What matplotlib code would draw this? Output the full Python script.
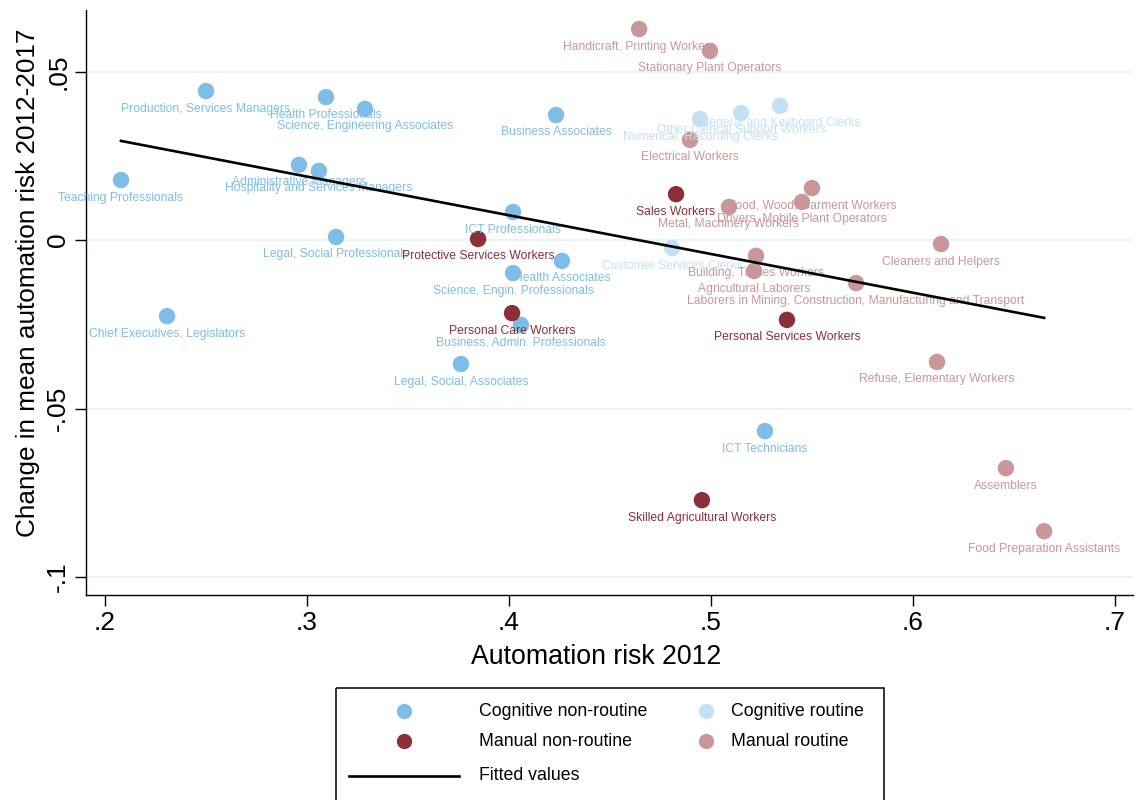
import matplotlib
matplotlib.use("Agg")
import matplotlib.pyplot as plt
from matplotlib.patches import Rectangle
from matplotlib.lines import Line2D

plt.rcParams['font.family'] = ['Liberation Sans', 'DejaVu Sans']

# ---------------- data ----------------
cnr_names = ["Teaching Professionals", "Production, Services Managers", "Health Professionals",
             "Science, Engineering Associates", "Administrative Managers",
             "Hospitality and Services Managers", "Business Associates", "ICT Professionals",
             "Legal, Social Professionals", "Health Associates", "Science, Engin. Professionals",
             "Business, Admin. Professionals", "Legal, Social, Associates",
             "Chief Executives, Legislators", "ICT Technicians"]
cnr_x = [0.2079, 0.2500, 0.3094, 0.3287, 0.2960, 0.3059, 0.4233, 0.4020, 0.3144, 0.4262,
         0.4020, 0.4059, 0.3762, 0.2307, 0.5267]
cnr_y = [0.0178, 0.0442, 0.0424, 0.0389, 0.0223, 0.0205, 0.0371, 0.0083, 0.0009, -0.0062,
         -0.0098, -0.0252, -0.0368, -0.0226, -0.0567]

cr_names = ["Numerical, Recording Clerks", "Other Clerical Support Workers",
            "General and Keyboard Clerks", "Customer Services Clerks"]
cr_x = [0.4946, 0.5149, 0.5342, 0.4807]
cr_y = [0.0359, 0.0377, 0.0398, -0.0024]

mnr_names = ["Protective Services Workers", "Sales Workers", "Personal Care Workers",
             "Personal Services Workers", "Skilled Agricultural Workers"]
mnr_x = [0.3847, 0.4827, 0.4015, 0.5376, 0.4955]
mnr_y = [0.0003, 0.0136, -0.0217, -0.0237, -0.0772]

mr_names = ["Handicraft, Printing Workers", "Stationary Plant Operators", "Electrical Workers",
            "Food, Wood, Garment Workers", "Drivers, Mobile Plant Operators",
            "Metal, Machinery Workers", "Building, Trades Workers", "Agricultural Laborers",
            "Laborers in Mining, Construction, Manufacturing and Transport",
            "Cleaners and Helpers", "Refuse, Elementary Workers", "Assemblers",
            "Food Preparation Assistants"]
mr_x = [0.4644, 0.4995, 0.4896, 0.5500, 0.5450, 0.5089, 0.5223, 0.5213, 0.5718, 0.6139,
        0.6119, 0.6460, 0.6649]
mr_y = [0.0626, 0.0561, 0.0297, 0.0154, 0.0113, 0.0098, -0.0047, -0.0092, -0.0128, -0.0012,
        -0.0362, -0.0677, -0.0864]

fit_x = [0.2079, 0.6649]
fit_y = [0.0294, -0.0231]

xticks = [0.2, 0.3, 0.4, 0.5, 0.6, 0.7]
xtick_labels = [".2", ".3", ".4", ".5", ".6", ".7"]
yticks = [-0.1, -0.05, 0.0, 0.05]
ytick_labels = ["-.1", "-.05", "0", ".05"]

groups = [
    ("Cognitive non-routine", cnr_names, cnr_x, cnr_y, "#7fbde9"),
    ("Cognitive routine", cr_names, cr_x, cr_y, "#c3e1f5"),
    ("Manual non-routine", mnr_names, mnr_x, mnr_y, "#8c2f38"),
    ("Manual routine", mr_names, mr_x, mr_y, "#c9979a"),
]

# ---------------- figure ----------------
W, H = 1138, 800
fig = plt.figure(figsize=(W / 100, H / 100), dpi=100)
ax = fig.add_axes([86 / W, 1 - 595 / H, (1133 - 86) / W, (595 - 10) / H])

ax.set_xlim(0.19059, 0.70891)
ax.set_ylim(-0.10534, 0.06825)

for yt in yticks:
    ax.axhline(yt, color="#eaf2f4", lw=1.6, zorder=0)

for name, names, xs, ys, col in groups:
    ax.scatter(xs, ys, s=140, color=col, edgecolors="none", zorder=2)
    for n, x, y in zip(names, xs, ys):
        ax.annotate(n, (x, y), xytext=(0, -12.6), textcoords="offset points",
                    ha="center", va="center", fontsize=8.7, color=col, zorder=3)

ax.plot(fit_x, fit_y, color="black", lw=1.9, zorder=4)

for s in ["top", "right"]:
    ax.spines[s].set_visible(False)
for s in ["left", "bottom"]:
    ax.spines[s].set_linewidth(1.0)

ax.set_xticks(xticks)
ax.set_xticklabels(xtick_labels, fontsize=19)
ax.set_yticks(yticks)
ax.set_yticklabels(ytick_labels, fontsize=19, rotation=90, va="center")
ax.tick_params(axis="both", length=7.8, width=1.0, direction="out")
ax.tick_params(axis="x", pad=4)
ax.tick_params(axis="y", pad=3.5)

ax.set_xlabel("Automation risk 2012", fontsize=19.2)
ax.xaxis.label.set_va("center")
ax.xaxis.set_label_coords((596 - 86) / 1047, -(657 - 595) / 585)
ax.set_ylabel("Change in mean automation risk 2012-2017", fontsize=18.8)
ax.yaxis.label.set_va("center")
ax.yaxis.set_label_coords((28 - 86) / 1047, (595 - 283) / 585)

# ---------------- legend (drawn manually in pixel coordinates) ----------------
lax = fig.add_axes([0, 0, 1, 1], zorder=5)
lax.set_xlim(0, W)
lax.set_ylim(H, 0)
lax.axis("off")
lax.patch.set_alpha(0)
lax.add_patch(Rectangle((336, 688), 884 - 336, 130, fill=False, lw=1.1, ec="black",
                        clip_on=False))
leg_items = [
    (groups[0][0], groups[0][4], 404, 479, 711),
    (groups[1][0], groups[1][4], 706, 731, 711),
    (groups[2][0], groups[2][4], 404, 479, 741),
    (groups[3][0], groups[3][4], 706, 731, 741),
]
for lab, col, mx, tx, yy in leg_items:
    lax.plot([mx], [yy], "o", ms=11, color=col, mec="none")
    lax.text(tx, yy, lab, fontsize=12.8, va="center", ha="left")
lax.add_line(Line2D([349, 459], [776, 776], color="black", lw=1.9))
lax.text(479, 776, "Fitted values", fontsize=12.8, va="center", ha="left")

fig.savefig("out.png", dpi=100)
